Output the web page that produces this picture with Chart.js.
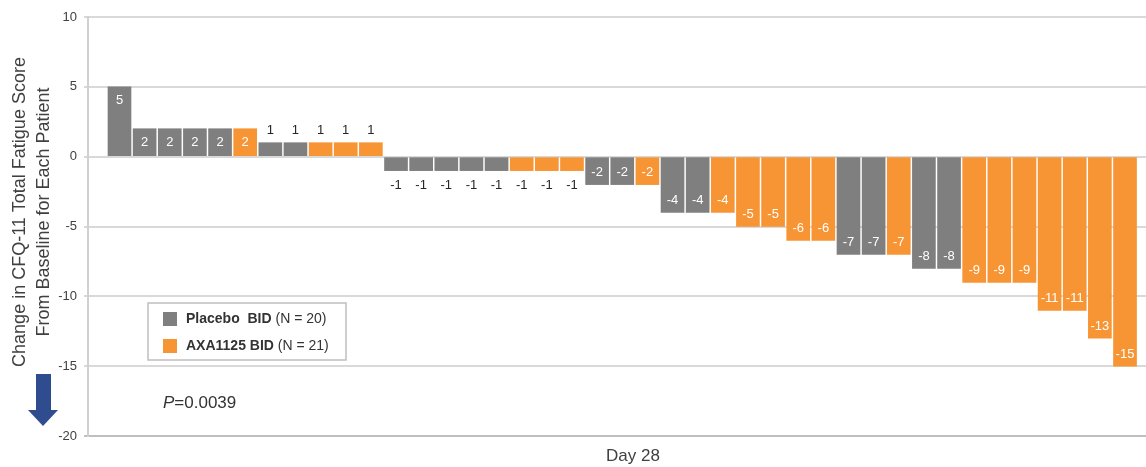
<!DOCTYPE html>
<html>
<head>
<meta charset="utf-8">
<script src="https://cdn.jsdelivr.net/npm/chart.js@4"></script>
<style>
  html, body { margin: 0; padding: 0; background: #fff; }
  #wrap { position: relative; width: 1146px; height: 467px; }
</style>
</head>
<body>
<div id="wrap"><canvas id="waterfall"></canvas></div>
<script>
// Change from baseline per patient, sorted as in the figure
const patientValues = [
    5, 2, 2, 2, 2, 2, 1, 1, 1, 1, 1,
    -1, -1, -1, -1, -1, -1, -1, -1,
    -2, -2, -2, -4, -4, -4, -5, -5, -6, -6,
    -7, -7, -7, -8, -8, -9, -9, -9, -11, -11, -13, -15
];
// P = placebo, A = AXA1125
const patientGroups = [
    'P', 'P', 'P', 'P', 'P', 'A', 'P', 'P', 'A', 'A', 'A',
    'P', 'P', 'P', 'P', 'P', 'A', 'A', 'A',
    'P', 'P', 'A', 'P', 'P', 'A', 'A', 'A', 'A', 'A',
    'P', 'P', 'A', 'P', 'P', 'A', 'A', 'A', 'A', 'A', 'A', 'A'
];
const legendNames = ['Placebo  BID', 'AXA1125 BID'];
const legendCounts = ['(N = 20)', '(N = 21)'];
const yTicks = [10, 5, 0, -5, -10, -15, -20];
const yTitleLines = ['Change in CFQ-11 Total Fatigue Score', 'From Baseline for Each Patient'];
const xTitle = 'Day 28';
const pValue = '=0.0039';

const GRAY = '#7f7f7f';
const ORANGE = '#f79433';
const FONT = '"Liberation Sans", Arial, sans-serif';

const barColors = patientGroups.map(g => g === 'P' ? GRAY : ORANGE);

/**
 * Value labels, titles, legend box, p-value and arrow
 */
const annotations = {
    id: 'annotations',
    afterDatasetsDraw(chart) {
        const ctx = chart.ctx;
        const meta = chart.getDatasetMeta(0);
        ctx.save();
        ctx.font = '13px ' + FONT;
        ctx.textAlign = 'center';
        ctx.textBaseline = 'middle';
        meta.data.forEach((bar, i) => {
            const v = patientValues[i];
            let y;
            if (Math.abs(v) >= 2) {
                ctx.fillStyle = '#ffffff';
                y = v > 0 ? bar.y + 14 : bar.y - 12;
            } else {
                ctx.fillStyle = '#262626';
                y = v > 0 ? bar.y - 12 : bar.y + 15;
            }
            ctx.fillText(String(v), bar.x, y);
        });
        ctx.restore();
    },
    afterDraw(chart) {
        const ctx = chart.ctx;
        ctx.save();

        // y axis title, two rotated lines
        ctx.fillStyle = '#404040';
        ctx.font = '18px ' + FONT;
        ctx.textAlign = 'center';
        ctx.textBaseline = 'middle';
        ctx.translate(0, 212);
        ctx.rotate(-Math.PI / 2);
        ctx.fillText(yTitleLines[0], 0, 20);
        ctx.fillText(yTitleLines[1], 0, 44);
        ctx.setTransform(1, 0, 0, 1, 0, 0);

        // x axis title
        ctx.font = '17px ' + FONT;
        ctx.fillText(xTitle, 633, 456);

        // down arrow
        ctx.fillStyle = '#2f4d8e';
        ctx.beginPath();
        ctx.moveTo(36, 374);
        ctx.lineTo(51, 374);
        ctx.lineTo(51, 410);
        ctx.lineTo(58, 410);
        ctx.lineTo(43, 426);
        ctx.lineTo(28, 410);
        ctx.lineTo(36, 410);
        ctx.closePath();
        ctx.fill();

        // legend box
        ctx.fillStyle = '#ffffff';
        ctx.fillRect(148, 303, 198, 57);
        ctx.strokeStyle = '#bfbfbf';
        ctx.lineWidth = 1.5;
        ctx.strokeRect(148, 303, 198, 57);
        const rowY = [319, 346];
        const swatch = [GRAY, ORANGE];
        ctx.textAlign = 'left';
        rowY.forEach((y, i) => {
            ctx.fillStyle = swatch[i];
            ctx.fillRect(163, y - 7, 14, 14);
            ctx.fillStyle = '#333333';
            ctx.font = 'bold 14px ' + FONT;
            const name = legendNames[i] + ' ';
            ctx.fillText(name, 186, y);
            const w = ctx.measureText(name).width;
            ctx.font = '14px ' + FONT;
            ctx.fillText(legendCounts[i], 186 + w, y);
        });

        // p-value
        ctx.fillStyle = '#333333';
        ctx.font = 'italic 17px ' + FONT;
        ctx.fillText('P', 163, 403);
        const pw = ctx.measureText('P').width;
        ctx.font = '17px ' + FONT;
        ctx.fillText(pValue, 163 + pw, 403);

        ctx.restore();
    }
};

new Chart(document.getElementById('waterfall'), {
    type: 'bar',
    data: {
        datasets: [{
            data: patientValues.map((v, i) => ({ x: i, y: v })),
            backgroundColor: barColors,
            borderWidth: 0,
            barThickness: 23
        }]
    },
    options: {
        responsive: true,
        maintainAspectRatio: false,
        animation: false,
        layout: {
            padding: { top: 17, right: 0, bottom: 31, left: 0 }
        },
        scales: {
            x: {
                type: 'linear',
                display: false,
                offset: false,
                min: -1.253,
                max: 40.835
            },
            y: {
                z: 1,
                min: -20,
                max: 10,
                afterFit: scale => { scale.width = 88; },
                afterBuildTicks: scale => {
                    scale.ticks = yTicks.map(v => ({ value: v }));
                },
                grid: {
                    color: c => c.tick && c.tick.value === -20 ? '#bfbfbf' : 'rgba(210, 210, 210, 0.85)',
                    lineWidth: 2,
                    tickLength: 4
                },
                border: {
                    color: '#d0d0d0',
                    width: 2
                },
                ticks: {
                    color: '#404040',
                    padding: 7,
                    font: { size: 13, family: FONT }
                }
            }
        },
        plugins: {
            legend: { display: false },
            tooltip: { enabled: false }
        }
    },
    plugins: [annotations]
});
</script>
</body>
</html>
